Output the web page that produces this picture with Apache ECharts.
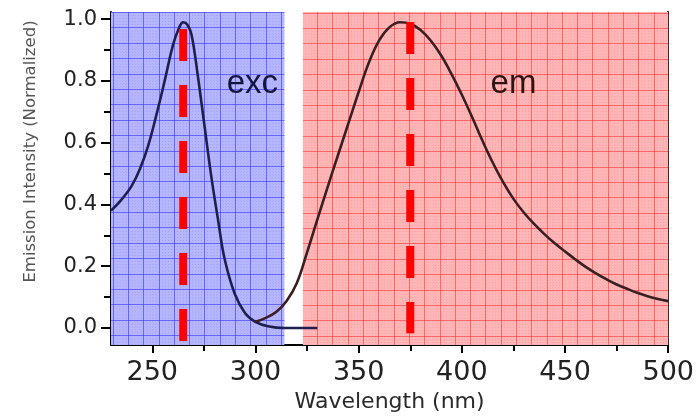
<!DOCTYPE html>
<html>
<head>
<meta charset="utf-8">
<script src="https://cdn.jsdelivr.net/npm/echarts@6/dist/echarts.min.js"></script>
<style>
html,body{margin:0;padding:0;background:#fff;}
#chart{width:697px;height:419px;}
</style>
</head>
<body>
<div id="chart"></div>
<script>
// ---- data ----
const excWavelength = [230,235,240,244,248,252,256,260,263,265,267,269,272,275,278.5,282,285,290,295,300,306,314,330];
const excIntensity  = [0.38,0.415,0.46,0.515,0.59,0.69,0.80,0.915,0.972,0.99,0.982,0.95,0.82,0.67,0.495,0.345,0.225,0.11,0.048,0.02,0.006,0.0,0.0];

const emWavelength = [300,305,310,315,320,325,330,335,340,345,350,355,360,365,370,375,380,385,390,395,400,405,410,415,420,425,430,435,440,445,450,455,460,465,470,475,480,485,490,495,500];
const emIntensity  = [0.02,0.033,0.052,0.087,0.145,0.245,0.352,0.457,0.56,0.662,0.764,0.86,0.932,0.974,0.99,0.985,0.965,0.93,0.882,0.822,0.755,0.682,0.606,0.535,0.472,0.418,0.374,0.337,0.304,0.274,0.248,0.222,0.198,0.177,0.158,0.141,0.127,0.114,0.103,0.094,0.087];

const markerWavelength = [265, 375];
const markerTop = [0.968, 0.991];
const markerBottom = [-0.042, -0.017];

const regionStart = [230, 323];
const regionEnd = [314, 500];
const regionNames = ['exc', 'em'];
const regionLabelX = [298.5, 425];
const regionLabelY = [0.79, 0.79];

const xMajorTicks = [250, 300, 350, 400, 450, 500];
const xMinorTicks = [275, 325, 375, 425, 475];
const yMajorTicks = [0.0, 0.2, 0.4, 0.6, 0.8, 1.0];
const yMinorTicks = [0.1, 0.3, 0.5, 0.7, 0.9];

// ---- layout / style ----
const X_MIN = 230, X_MAX = 500, Y_MIN = -0.055, Y_MAX = 1.023;
const paperCellX = 7.41, paperCellY = 0.0498;
const paperStartX = [230.8, 329.9];
const paperStartY = [0.973, 0.971];
const palettes = [
  {fill: '#b6b6ff', major: 'rgba(50,50,255,0.6)', minor: 'rgba(110,110,255,0.18)', text: '#14143c'},
  {fill: '#ffb6b6', major: 'rgba(255,50,50,0.6)', minor: 'rgba(255,110,110,0.18)', text: '#301414'}
];

function zip(a, b) { return a.map((v, i) => [v, b[i]]); }

function renderPaper(params, api) {
  const idx = params.dataIndex;
  const x0 = api.value(0), x1 = api.value(1), y0 = api.value(2), y1 = api.value(3);
  const pTL = api.coord([x0, y1]);
  const pBR = api.coord([x1, y0]);
  const pal = palettes[idx];
  const children = [{
    type: 'rect',
    shape: {x: pTL[0], y: pTL[1], width: pBR[0] - pTL[0], height: pBR[1] - pTL[1]},
    style: {fill: pal.fill}
  }];
  const sub = 5;
  const sx = paperCellX / sub;
  const gx0 = paperStartX[idx];
  for (let k = Math.ceil((x0 - gx0) / sx); gx0 + k * sx <= x1 + 1e-9; k++) {
    const px = Math.round(api.coord([gx0 + k * sx, 0])[0]) + 0.5;
    const major = ((k % sub) + sub) % sub === 0;
    children.push({
      type: 'line',
      shape: {x1: px, y1: pTL[1], x2: px, y2: pBR[1]},
      style: {stroke: major ? pal.major : pal.minor, lineWidth: 1, lineDash: major ? null : [1, 2]},
      z2: major ? 2 : 1
    });
  }
  const sy = paperCellY / sub;
  const gy0 = paperStartY[idx];
  for (let k = Math.ceil((gy0 - y1) / sy); gy0 - k * sy >= y0 - 1e-9; k++) {
    const py = Math.round(api.coord([x0, gy0 - k * sy])[1]) + 0.5;
    const major = ((k % sub) + sub) % sub === 0;
    children.push({
      type: 'line',
      shape: {x1: pTL[0], y1: py, x2: pBR[0], y2: py},
      style: {stroke: major ? pal.major : pal.minor, lineWidth: 1, lineDash: major ? null : [1, 2]},
      z2: major ? 2 : 1
    });
  }
  return {type: 'group', children: children};
}

const chart = echarts.init(document.getElementById('chart'), null, {renderer: 'canvas'});

const axisFont = 'DejaVu Sans';
const blackLine = {color: '#000', width: 2};

const xBase = {
  type: 'value', min: X_MIN, max: X_MAX, position: 'bottom',
  splitLine: {show: false}
};
const yBase = {
  type: 'value', min: Y_MIN, max: Y_MAX,
  splitLine: {show: false}
};

const markerSeries = markerWavelength.map((w, i) => ({
  type: 'line',
  data: [[w, markerTop[i]], [w, markerBottom[i]]],
  symbol: 'none',
  silent: true,
  z: 5,
  lineStyle: {color: '#ff0000', width: 8, type: [32, 24], cap: 'butt'}
}));

chart.setOption({
  animation: false,
  backgroundColor: '#ffffff',
  grid: {left: 111, right: 27, top: 12, bottom: 74, containLabel: false},
  xAxis: [
    Object.assign({}, xBase, {
      name: 'Wavelength (nm)', nameLocation: 'middle', nameGap: 46,
      nameTextStyle: {fontFamily: axisFont, fontSize: 22, color: '#2a2a2a'},
      axisLine: {show: true, onZero: false, lineStyle: blackLine},
      axisTick: {show: true, length: 8, lineStyle: blackLine, customValues: xMajorTicks},
      axisLabel: {show: true, customValues: xMajorTicks, margin: 14, fontFamily: axisFont, fontSize: 27, color: '#222'}
    }),
    Object.assign({}, xBase, {
      axisLine: {show: false, onZero: false},
      axisTick: {show: true, length: 6, lineStyle: blackLine, customValues: xMinorTicks},
      axisLabel: {show: false}
    })
  ],
  yAxis: [
    Object.assign({}, yBase, {
      position: 'left',
      name: 'Emission Intensity (Normalized)', nameLocation: 'middle', nameGap: 72,
      nameTextStyle: {fontFamily: axisFont, fontSize: 16.5, color: '#555', padding: [0, 0, 0, 54]},
      axisLine: {show: true, onZero: false, lineStyle: blackLine},
      axisTick: {show: true, length: 10, lineStyle: blackLine, customValues: yMajorTicks},
      axisLabel: {show: true, customValues: yMajorTicks, margin: 14, fontFamily: axisFont, fontSize: 21, color: '#222',
        formatter: v => v.toFixed(1)}
    }),
    Object.assign({}, yBase, {
      position: 'left',
      axisLine: {show: false, onZero: false},
      axisTick: {show: true, length: 7, lineStyle: blackLine, customValues: yMinorTicks},
      axisLabel: {show: false}
    }),
    Object.assign({}, yBase, {
      position: 'right',
      axisLine: {show: true, onZero: false, lineStyle: blackLine},
      axisTick: {show: false},
      axisLabel: {show: false}
    })
  ],
  series: [
    {
      type: 'custom',
      renderItem: renderPaper,
      silent: true,
      clip: true,
      z: 1,
      encode: {x: [0, 1], y: [2, 3]},
      data: regionStart.map((s, i) => [s, regionEnd[i], Y_MIN, Y_MAX])
    },
    {
      type: 'line', name: 'exc',
      data: zip(excWavelength, excIntensity),
      symbol: 'none', smooth: 0.4, z: 3,
      lineStyle: {color: '#1e1e50', width: 2.6}
    },
    {
      type: 'line', name: 'em',
      data: zip(emWavelength, emIntensity),
      symbol: 'none', smooth: 0.4, z: 3,
      lineStyle: {color: '#3a1e22', width: 2.6}
    }
  ].concat(markerSeries).concat([
    {
      type: 'scatter',
      symbolSize: 1,
      itemStyle: {color: 'rgba(0,0,0,0)'},
      silent: true,
      z: 6,
      data: regionNames.map((n, i) => ({
        name: n,
        value: [regionLabelX[i], regionLabelY[i]],
        label: {color: palettes[i].text, opacity: 1}
      })),
      label: {show: true, position: 'inside', formatter: '{b}', fontFamily: 'Liberation Sans', fontSize: 33, opacity: 1}
    }
  ])
});
</script>
</body>
</html>
